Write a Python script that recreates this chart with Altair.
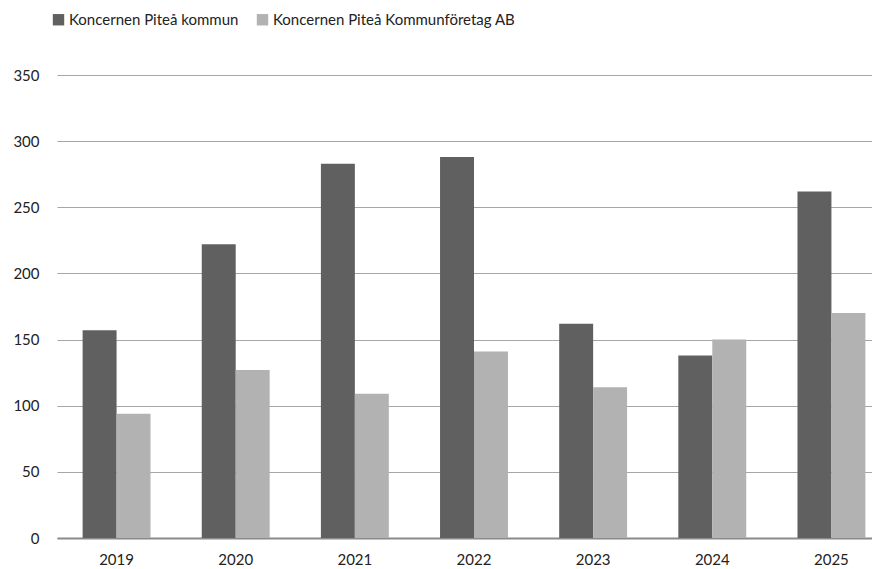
import altair as alt
import pandas as pd

years = ["2019", "2020", "2021", "2022", "2023", "2024", "2025"]
series_names = ["Koncernen Piteå kommun", "Koncernen Piteå Kommunföretag AB"]
kommun = [157, 222, 283, 288, 162, 138, 262]
foretag = [94, 127, 109, 141, 114, 150, 170]

rows = []
for i, y in enumerate(years):
    rows.append({"year": y, "series": series_names[0], "value": kommun[i]})
    rows.append({"year": y, "series": series_names[1], "value": foretag[i]})
df = pd.DataFrame(rows)

FONT = "Lato"

chart = alt.Chart(df).mark_bar().encode(
    x=alt.X("year:N", sort=years, title=None,
            scale=alt.Scale(range=[0, 834], paddingInner=0.43, paddingOuter=0.215),
            axis=alt.Axis(labelAngle=0, ticks=False, domain=True, domainColor="#8a8a8a",
                          domainWidth=2, labelFontSize=15, labelColor="#222",
                          labelPadding=14, labelFont=FONT, grid=False)),
    xOffset=alt.XOffset("series:N", sort=series_names),
    y=alt.Y("value:Q", title=None,
            scale=alt.Scale(domain=[0, 350], nice=False),
            axis=alt.Axis(values=[0, 50, 100, 150, 200, 250, 300, 350], domain=False, ticks=False,
                          gridColor="#a6a6a6", gridWidth=1, labelFontSize=15, labelColor="#222",
                          labelPadding=18, labelFont=FONT)),
    color=alt.Color("series:N", sort=series_names,
                    scale=alt.Scale(domain=series_names, range=["#606060", "#b2b2b2"]),
                    legend=alt.Legend(title=None, orient="none", direction="horizontal",
                                      legendX=-6, legendY=-63, symbolType="square",
                                      symbolSize=130, labelFontSize=15, labelFont=FONT,
                                      labelColor="#222", columnPadding=16, labelOffset=3,
                                      labelLimit=0, symbolStrokeWidth=0)),
).properties(
    width=815, height=463,
    padding={"left": 49, "top": 67, "right": 0, "bottom": 30},
    autosize=alt.AutoSizeParams(type="none"),
).configure_view(stroke=None)

chart.save("out.html", embed_options={"renderer": "svg", "actions": False})
